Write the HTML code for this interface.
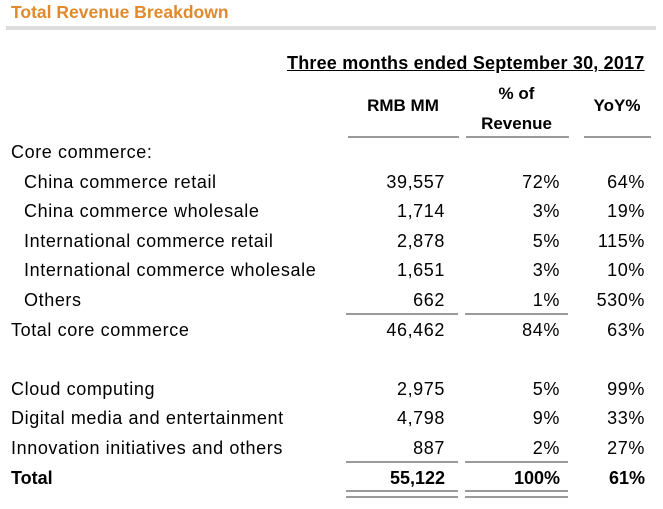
<!DOCTYPE html>
<html><head><meta charset="utf-8"><style>
body{margin:0;background:#fff;width:663px;height:509px;position:relative;overflow:hidden;font-family:"Liberation Sans",sans-serif;color:#000}
.t{position:absolute;font-size:18px;letter-spacing:0.6px;line-height:20px;white-space:nowrap}
.r{text-align:right}
.b{font-weight:bold}
.ln{position:absolute;height:2px;background:#9a9a9a}
</style></head><body>
<div class="t b" style="left:11px;top:2px;color:#e08a2c;font-size:17.5px;letter-spacing:0">Total Revenue Breakdown</div>
<div class="ln" style="left:6px;top:26px;width:650px;height:4px;background:#ddd"></div>
<div class="t b" style="left:287px;top:53px;width:358px;text-decoration:underline;font-size:18px;letter-spacing:0.2px">Three months ended September 30, 2017</div>
<div class="t b" style="left:348px;top:96px;width:110px;text-align:center;font-size:17px;letter-spacing:0">RMB MM</div>
<div class="t b" style="left:465px;top:79px;width:103px;text-align:center;font-size:17px;letter-spacing:0;line-height:30px">% of<br>Revenue</div>
<div class="t b" style="left:583px;top:96px;width:68px;text-align:center;font-size:17px;letter-spacing:0">YoY%</div>
<div class="ln" style="left:348px;top:136px;width:111px"></div>
<div class="ln" style="left:466px;top:136px;width:103px"></div>
<div class="ln" style="left:584px;top:136px;width:67px"></div>
<div id="rows"></div>
<div class="ln" style="left:346px;top:313px;width:112px"></div>
<div class="ln" style="left:465px;top:313px;width:103px"></div>
<div class="ln" style="left:346px;top:461px;width:112px"></div>
<div class="ln" style="left:465px;top:461px;width:103px"></div>
<div class="ln" style="left:346px;top:490px;width:112px"></div>
<div class="ln" style="left:346px;top:496px;width:112px"></div>
<div class="ln" style="left:465px;top:490px;width:103px"></div>
<div class="ln" style="left:465px;top:496px;width:103px"></div>
<script>
const labels=["Core commerce:","China commerce retail","China commerce wholesale","International commerce retail","International commerce wholesale","Others","Total core commerce","","Cloud computing","Digital media and entertainment","Innovation initiatives and others","Total"];
const indent=[0,1,1,1,1,1,0,0,0,0,0,0];
const rmb=["","39,557","1,714","2,878","1,651","662","46,462","","2,975","4,798","887","55,122"];
const pct=["","72%","3%","5%","3%","1%","84%","","5%","9%","2%","100%"];
const yoy=["","64%","19%","115%","10%","530%","63%","","99%","33%","27%","61%"];
const host=document.getElementById('rows');
labels.forEach((l,i)=>{
  const y=142+i*29.6;
  const bold=i===labels.length-1;
  const mk=(txt,left,w,right)=>{
    const d=document.createElement('div');
    d.className='t'+(right?' r':'')+(bold?' b':'');
    d.style.left=left+'px';d.style.top=y+'px';
    if(w)d.style.width=w+'px';
    if(bold)d.style.letterSpacing='0px';
    d.textContent=txt;host.appendChild(d);return d;
  };
  if(l){const d=mk(l,indent[i]?24:11,0,false);
  
  }
  if(rmb[i]){const d=mk(rmb[i],340,105,true);
  
  }
  if(pct[i]){const d=mk(pct[i],460,100,true);
  
  }
  if(yoy[i]){const d=mk(yoy[i],570,75,true);
  
  }
});
</script>
</body></html>
